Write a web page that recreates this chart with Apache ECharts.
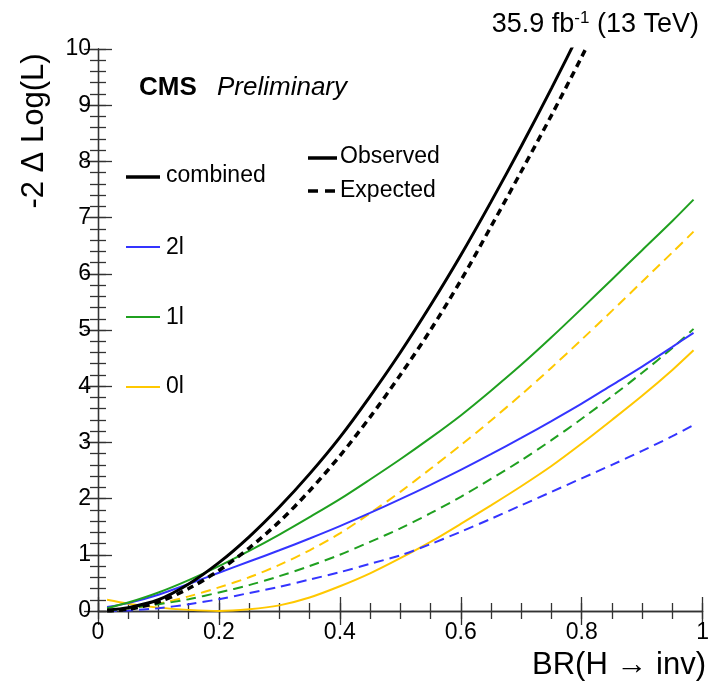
<!DOCTYPE html>
<html>
<head>
<meta charset="utf-8">
<script src="https://cdn.jsdelivr.net/npm/echarts@6/dist/echarts.min.js"></script>
<style>
html,body{margin:0;padding:0;background:#fff;}
#c{width:712px;height:687px;}
</style>
</head>
<body>
<div id="c"></div>
<script>
// x positions (BR) for channel curves
var chanX = [0.015, 0.05, 0.1, 0.15, 0.2, 0.25, 0.3, 0.35, 0.4, 0.45, 0.5, 0.55, 0.6, 0.65, 0.7, 0.75, 0.8, 0.85, 0.9, 0.95, 0.985];
// x positions for combined curves (run past the frame, clipped at 10)
var combX = [0.015, 0.05, 0.1, 0.15, 0.2, 0.25, 0.3, 0.35, 0.4, 0.45, 0.5, 0.55, 0.6, 0.65, 0.7, 0.75, 0.8, 0.85];

var combinedObs = [0.02, 0.06, 0.2, 0.48, 0.86, 1.32, 1.85, 2.44, 3.09, 3.82, 4.6, 5.44, 6.33, 7.28, 8.27, 9.3, 10.37, 11.47];
var combinedExp = [0.0, 0.03, 0.16, 0.4, 0.72, 1.12, 1.59, 2.14, 2.76, 3.45, 4.2, 5.0, 5.88, 6.84, 7.82, 8.82, 9.86, 10.94];

var obs2l = [0.07, 0.14, 0.29, 0.48, 0.68, 0.88, 1.08, 1.29, 1.51, 1.745, 1.99, 2.245, 2.51, 2.79, 3.08, 3.38, 3.69, 4.02, 4.35, 4.7, 4.95];
var exp2l = [0.0, 0.01, 0.05, 0.12, 0.21, 0.32, 0.43, 0.56, 0.69, 0.84, 0.99, 1.19, 1.41, 1.64, 1.88, 2.12, 2.36, 2.6, 2.85, 3.11, 3.31];

var obs1l = [0.05, 0.15, 0.33, 0.55, 0.8, 1.07, 1.36, 1.67, 1.99, 2.34, 2.7, 3.08, 3.48, 3.92, 4.38, 4.87, 5.38, 5.9, 6.42, 6.94, 7.32];
var exp1l = [0.01, 0.05, 0.12, 0.21, 0.33, 0.46, 0.62, 0.8, 1.0, 1.23, 1.47, 1.74, 2.03, 2.35, 2.68, 3.04, 3.42, 3.82, 4.24, 4.68, 5.02];

var obs0l = [0.2, 0.13, 0.06, 0.02, 0.0, 0.03, 0.1, 0.24, 0.44, 0.67, 0.94, 1.23, 1.55, 1.88, 2.22, 2.58, 2.98, 3.4, 3.83, 4.29, 4.64];
var exp0l = [0.0, 0.04, 0.13, 0.26, 0.42, 0.6, 0.82, 1.08, 1.38, 1.74, 2.12, 2.53, 2.95, 3.39, 3.85, 4.33, 4.83, 5.34, 5.86, 6.38, 6.75];

var xTicks = {min: 0, max: 1, interval: 0.2};
var xMinorStep = 0.05;
var yTicks = {min: 0, max: 10, interval: 1};
var yMinorStep = 0.2;

function pairs(xs, ys) { return xs.map(function (x, i) { return [x, ys[i]]; }); }

var BLACK = '#000000', BLUE = '#3434ff', GREEN = '#1fa01f', YELLOW = '#ffc800';
var FONT = '"Liberation Sans", Arial, Helvetica, sans-serif';
var AXC = '#333';

function lineSeries(name, xs, ys, color, width, dash) {
  return {
    name: name, type: 'line', data: pairs(xs, ys), showSymbol: false, symbol: 'none',
    smooth: 0.3, clip: true, silent: true,
    lineStyle: {color: color, width: width, type: dash || 'solid', cap: 'butt'},
    z: 5
  };
}

// an axis that only draws inward ticks (no labels)
function tickAxis(pos, range, step, len, showLine) {
  return {
    type: 'value', position: pos, min: range.min, max: range.max, interval: step,
    axisLine: {show: showLine, lineStyle: {color: AXC, width: 1.3}},
    axisTick: {show: true, inside: true, length: len, lineStyle: {color: AXC, width: 1.3}},
    minorTick: {show: false}, splitLine: {show: false}, axisLabel: {show: false}
  };
}
// an axis that only draws labels
function labelAxis(pos, range, margin) {
  return {
    type: 'value', position: pos, min: range.min, max: range.max, interval: range.interval,
    axisLine: {show: false}, axisTick: {show: false}, minorTick: {show: false}, splitLine: {show: false},
    axisLabel: {show: true, color: '#000', fontFamily: FONT, fontSize: 23, margin: margin}
  };
}

var xAxes = [
  labelAxis('bottom', xTicks, 10),
  tickAxis('bottom', xTicks, xTicks.interval, 14, true),
  tickAxis('bottom', xTicks, xMinorStep, 8, false),
  tickAxis('top', xTicks, xTicks.interval, 14, true),
  tickAxis('top', xTicks, xMinorStep, 8, false)
];
var yAxes = [
  labelAxis('left', yTicks, 7),
  tickAxis('left', yTicks, yTicks.interval, 14, true),
  tickAxis('left', yTicks, yMinorStep, 8, false),
  tickAxis('right', yTicks, yTicks.interval, 14, true),
  tickAxis('right', yTicks, yMinorStep, 8, false)
];

var chart = echarts.init(document.getElementById('c'), null, {renderer: 'canvas'});

var seg = function (x1, y1, x2, y2, color, w, dash) {
  return {type: 'line', silent: true, shape: {x1: x1, y1: y1, x2: x2, y2: y2},
    style: {stroke: color, lineWidth: w, lineDash: dash || null}};
};
var label = function (x, y, s, font, extra) {
  return {type: 'text', silent: true, x: x, y: y,
    style: Object.assign({text: s, fill: '#000', font: font, verticalAlign: 'middle'}, extra || {})};
};

var graphics = [
  label(139, 88, 'CMS', 'bold 26px ' + FONT),
  label(217, 88, 'Preliminary', 'italic 26px ' + FONT),
  {type: 'text', silent: true, x: 699, y: 25, style: {
    text: '{a|35.9 fb}{s|-1}{a| (13 TeV)}', align: 'right', verticalAlign: 'middle',
    rich: {a: {fontFamily: FONT, fontSize: 27, fill: '#000'}, s: {fontFamily: FONT, fontSize: 17, fill: '#000', padding: [0, 0, 13, 0]}}
  }},
  label(706, 665, 'BR(H \u2192 inv)', '31px ' + FONT, {align: 'right'}),
  {type: 'text', silent: true, x: 34, y: 131, rotation: Math.PI / 2,
    style: {text: '-2 \u0394 Log(L)', fill: '#000', font: '31px ' + FONT, align: 'center', verticalAlign: 'middle'}},
  // legend: channels
  seg(126, 177, 160, 177, BLACK, 3.5),
  label(166, 176, 'combined', '23px ' + FONT),
  seg(126, 247, 160, 247, BLUE, 2),
  label(166, 248, '2l', '23px ' + FONT),
  seg(126, 317, 160, 317, GREEN, 2),
  label(166, 318, '1l', '23px ' + FONT),
  seg(126, 387, 160, 387, YELLOW, 2),
  label(166, 387, '0l', '23px ' + FONT),
  // legend: styles
  seg(308, 158, 337, 158, BLACK, 3.5),
  label(340, 157, 'Observed', '23px ' + FONT),
  seg(308, 191, 337, 191, BLACK, 3.5, [10, 7]),
  label(340, 191, 'Expected', '23px ' + FONT)
];

chart.setOption({
  animation: false,
  backgroundColor: '#fff',
  grid: {left: 98, right: 9, top: 49, bottom: 76, containLabel: false},
  xAxis: xAxes,
  yAxis: yAxes,
  graphic: graphics,
  series: [
    lineSeries('0l exp', chanX, exp0l, YELLOW, 2, [10, 6]),
    lineSeries('0l obs', chanX, obs0l, YELLOW, 2),
    lineSeries('2l exp', chanX, exp2l, BLUE, 2, [10, 6]),
    lineSeries('1l exp', chanX, exp1l, GREEN, 2, [10, 6]),
    lineSeries('2l obs', chanX, obs2l, BLUE, 2),
    lineSeries('1l obs', chanX, obs1l, GREEN, 2),
    lineSeries('combined exp', combX, combinedExp, BLACK, 3.5, [7, 5]),
    lineSeries('combined obs', combX, combinedObs, BLACK, 3)
  ]
});
</script>
</body>
</html>
